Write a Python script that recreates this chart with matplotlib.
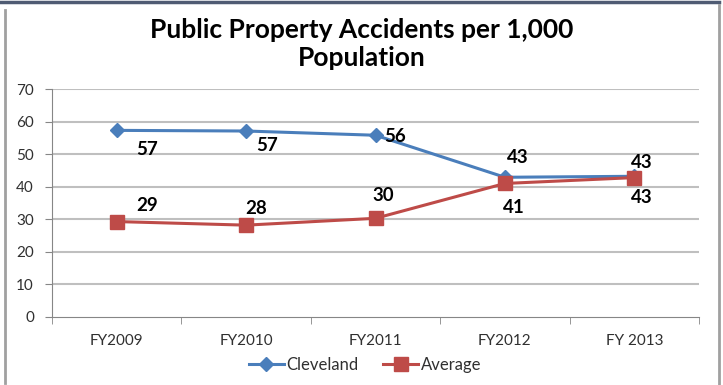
import matplotlib
matplotlib.use("Agg")
import matplotlib.pyplot as plt
from matplotlib.lines import Line2D
import numpy as np

categories = ["FY2009", "FY2010", "FY2011", "FY2012", "FY 2013"]
cleveland = [57.3, 57.1, 55.8, 42.9, 43.2]
average = [29.3, 28.2, 30.3, 41.0, 42.8]
cleveland_labels = ["57", "57", "56", "43", "43"]
average_labels = ["29", "28", "30", "41", "43"]
yticks = [0, 10, 20, 30, 40, 50, 60, 70]
title = "Public Property Accidents per 1,000\nPopulation"

W, H = 723, 385
fig = plt.figure(figsize=(W / 100, H / 100), dpi=100)
ax = fig.add_axes([52 / W, 1 - 317 / H, (699 - 52) / W, (317 - 89) / H])

blue = "#4A7EBB"
red = "#BE4B48"
grid = "#BFBFBF"
axc = "#868686"
font = "Lato"

x = np.arange(len(categories))
ax.plot(x, cleveland, color=blue, lw=2.2, marker="D", ms=7, mfc=blue, mec=blue, label="Cleveland", zorder=3)
ax.plot(x, average, color=red, lw=2.2, marker="s", ms=10, mfc=red, mec=red, label="Average", zorder=4)

ax.set_xlim(-0.5, len(categories) - 0.5)
ax.set_ylim(0, 70)
ax.set_yticks(yticks)
ax.set_yticklabels([str(v) for v in yticks], fontsize=11, color="#303030", family=font)
ax.set_xticks(x)
ax.set_xticklabels(categories, fontsize=11, color="#303030", family=font)
ax.tick_params(axis="x", length=0, pad=12)
ax.set_xticks(np.arange(-0.5, len(categories)), minor=True)
ax.tick_params(axis="x", which="minor", length=5, color=axc, direction="out")
ax.tick_params(axis="y", length=5, color=axc, pad=8)
for v in yticks[1:]:
    ax.axhline(v, color=grid, lw=1.5, zorder=1)
for s in ["top", "right"]:
    ax.spines[s].set_visible(False)
ax.spines["left"].set_color(axc)
ax.spines["bottom"].set_color(axc)

cl_off = [(30, -19), (21, -14), (20, -1), (13, 20), (7, 14)]
av_off = [(30, 16), (10, 17), (8, 23), (9, -24), (7, -20)]
for i in range(len(categories)):
    ax.annotate(cleveland_labels[i], (x[i], cleveland[i]), xytext=cl_off[i], textcoords="offset pixels",
                ha="center", va="center", fontsize=13.5, fontweight="bold", family=font, color="black")
    ax.annotate(average_labels[i], (x[i], average[i]), xytext=av_off[i], textcoords="offset pixels",
                ha="center", va="center", fontsize=13.5, fontweight="bold", family=font, color="black")

fig.text(362 / W, 1 - 44 / H, title, ha="center", va="center", fontsize=19, fontweight="bold",
         family=font, linespacing=1.15)

leg = fig.legend(loc="center", bbox_to_anchor=(365 / W, 1 - 365 / H), ncol=2, frameon=False,
                 prop={"family": font, "size": 12}, handlelength=2.1, columnspacing=1.5, handletextpad=0.15)
for t in leg.get_texts():
    t.set_color("#303030")

fig.add_artist(Line2D([0, 719 / W], [1 - 2 / H, 1 - 2 / H], transform=fig.transFigure, color="#4F5B73", lw=2.5))
fig.add_artist(Line2D([5 / W, 5 / W], [1 - 10 / H, 1 - 383 / H], transform=fig.transFigure, color="#A0A0A0", lw=2))
fig.add_artist(Line2D([719 / W, 719 / W], [1 - 5 / H, 0], transform=fig.transFigure, color="#A0A0A0", lw=2))

fig.savefig("out.png", dpi=100)
